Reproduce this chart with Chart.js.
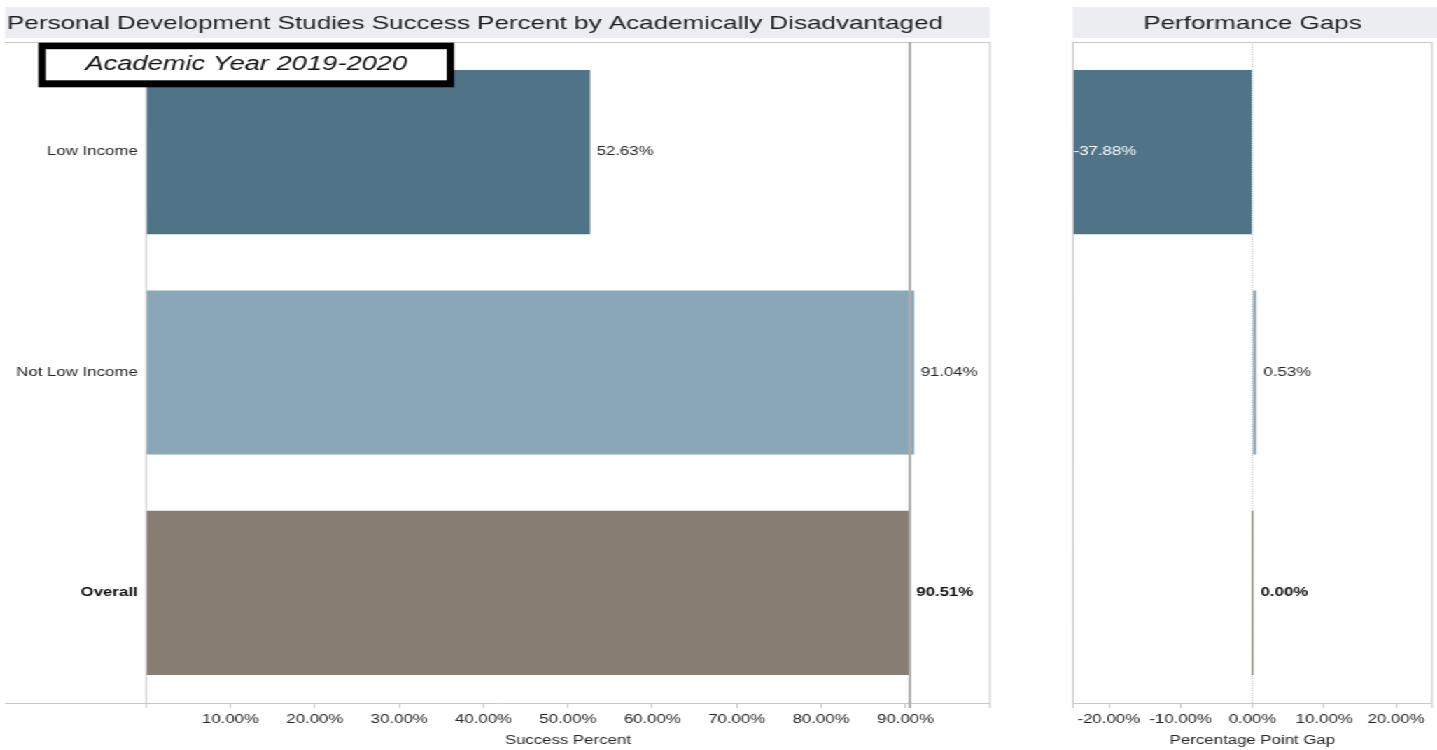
<!DOCTYPE html>
<html><head><meta charset="utf-8">
<script src="https://cdn.jsdelivr.net/npm/chart.js@4.4.1/dist/chart.umd.min.js"></script>
<style>
html,body{margin:0;padding:0;background:#fff;overflow:hidden;width:1437px;height:750px}
#stage{position:absolute;left:0;top:0;width:1026.43px;height:750px;transform:scaleX(1.4);transform-origin:0 0}
#c1{position:absolute;left:0;top:0}
#c2{position:absolute;left:730px;top:0}
</style></head><body>
<div id="stage"><canvas id="c1" width="730" height="750"></canvas><canvas id="c2" width="297" height="750"></canvas></div>
<script>
const categories = ['Low Income', 'Not Low Income', 'Overall'];
const successPercent = [52.63, 91.04, 90.51];
const performanceGap = [-37.88, 0.53, 0.00];
const successTicks = [10, 20, 30, 40, 50, 60, 70, 80, 90];
const gapTicks = [-20, -10, 0, 10, 20];
const barColors = ['#4f7487', '#8aa7b8', '#877d72'];
const mainTitle = 'Personal Development Studies Success Percent by Academically Disadvantaged';
const gapTitle = 'Performance Gaps';
const annotationText = 'Academic Year 2019-2020';
const xTitleLeft = 'Success Percent';
const xTitleRight = 'Percentage Point Gap';
const overallValue = successPercent[2];

const FONT = "'Liberation Sans', Arial, Helvetica, sans-serif";
const LINE = '#c8c8c8';
const TEXT = '#262626';
const pct = v => Number(v).toFixed(2) + '%';

function drawLabels(chart, offset) {
  const {ctx, chartArea: a} = chart;
  const meta = chart.getDatasetMeta(0);
  const vals = chart.data.datasets[0].data;
  ctx.save();
  ctx.textBaseline = 'middle';
  meta.data.forEach((bar, i) => {
    const v = vals[i];
    const bold = i === 2;
    ctx.font = (bold ? 'bold ' : '') + '12px ' + FONT;
    ctx.textAlign = 'left';
    if (v < 0 && bar.x <= a.left + 1) {
      ctx.fillStyle = '#ffffff';
      ctx.fillText(pct(v), a.left + 0.5, bar.y);
    } else {
      ctx.fillStyle = bold ? '#111' : TEXT;
      ctx.fillText(pct(v), Math.max(bar.x, bar.base) + offset, bar.y);
    }
  });
  ctx.restore();
}

function hline(ctx, x1, x2, y) { ctx.beginPath(); ctx.moveTo(x1, y); ctx.lineTo(x2, y); ctx.stroke(); }
function vline(ctx, x, y1, y2) { ctx.beginPath(); ctx.moveTo(x, y1); ctx.lineTo(x, y2); ctx.stroke(); }

const leftDecor = {
  id: 'leftDecor',
  beforeDraw(chart) {
    const {ctx, chartArea: a} = chart;
    ctx.save();
    ctx.fillStyle = '#ecedf1';
    ctx.fillRect(3.6, 7, a.right - 3.6, 31);
    ctx.fillStyle = '#1e1e1e';
    ctx.font = '18.6px ' + FONT;
    ctx.textAlign = 'center';
    ctx.textBaseline = 'middle';
    ctx.fillText(mainTitle, 339.3, 23.5);
    ctx.restore();
  },
  afterDatasetsDraw(chart) {
    const {ctx, chartArea: a, scales} = chart;
    ctx.save();
    ctx.strokeStyle = LINE; ctx.lineWidth = 1;
    hline(ctx, 3.6, a.right, a.top + 0.5);
    hline(ctx, 3.6, a.right, a.bottom + 0.5);
    vline(ctx, a.left, a.top, a.bottom + 5);
    vline(ctx, a.right, a.top, a.bottom + 5);
    const rx = scales.x.getPixelForValue(overallValue);
    ctx.strokeStyle = '#adadad'; ctx.lineWidth = 2;
    vline(ctx, rx, a.top, a.bottom + 5);
    ctx.restore();
    drawLabels(chart, 4.6);
    ctx.save();
    const bx1 = 27.4, bx2 = 324.3, by1 = 42.7, by2 = 87.3;
    ctx.fillStyle = '#000';
    ctx.fillRect(bx1, by1, bx2 - bx1, by2 - by1);
    ctx.fillStyle = '#fff';
    ctx.fillRect(bx1 + 5.2, by1 + 6.5, bx2 - bx1 - 10.4, by2 - by1 - 13.5);
    ctx.fillStyle = '#111';
    ctx.font = 'italic 19.5px ' + FONT;
    ctx.textAlign = 'center';
    ctx.textBaseline = 'middle';
    ctx.fillText(annotationText, (bx1 + bx2) / 2, 64.5);
    ctx.restore();
  }
};

const rightDecor = {
  id: 'rightDecor',
  beforeDraw(chart) {
    const {ctx, chartArea: a, width} = chart;
    ctx.save();
    ctx.fillStyle = '#ecedf1';
    ctx.fillRect(a.left, 7, width - a.left, 31);
    ctx.fillStyle = '#1e1e1e';
    ctx.font = '18.6px ' + FONT;
    ctx.textAlign = 'center';
    ctx.textBaseline = 'middle';
    ctx.fillText(gapTitle, (a.left + a.right) / 2, 23.5);
    ctx.restore();
  },
  beforeDatasetsDraw(chart) {
    const {ctx, chartArea: a, scales} = chart;
    ctx.save();
    const zx = scales.x.getPixelForValue(0);
    ctx.strokeStyle = '#b5b5b5'; ctx.lineWidth = 0.8;
    ctx.setLineDash([1.2, 1.2]);
    vline(ctx, zx, a.top, a.bottom);
    ctx.restore();
  },
  afterDatasetsDraw(chart) {
    const {ctx, chartArea: a} = chart;
    ctx.save();
    ctx.strokeStyle = LINE; ctx.lineWidth = 1;
    hline(ctx, a.left, a.right, a.top + 0.5);
    hline(ctx, a.left, a.right, a.bottom + 0.5);
    vline(ctx, a.left, a.top, a.bottom + 5);
    vline(ctx, a.right, a.top, a.bottom + 5);
    ctx.restore();
    drawLabels(chart, 5.2);
  }
};

const tickFont = {family: FONT, size: 12};

new Chart(document.getElementById('c1'), {
  type: 'bar',
  data: {labels: categories, datasets: [{data: successPercent, backgroundColor: barColors, barPercentage: 0.745, categoryPercentage: 1}]},
  options: {
    indexAxis: 'y', responsive: false, animation: false, devicePixelRatio: 1,
    layout: {padding: {left: 0, right: 22.9, top: 42, bottom: 0}},
    plugins: {legend: {display: false}, tooltip: {enabled: false}},
    scales: {
      x: {
        type: 'linear', min: 0, max: 100,
        afterBuildTicks(s) { s.ticks = successTicks.map(v => ({value: v})); },
        afterFit(s) { s.height = 47; },
        grid: {drawOnChartArea: false, drawTicks: true, tickLength: 5, color: LINE},
        border: {display: false},
        ticks: {font: tickFont, color: TEXT, padding: 4, maxRotation: 0, autoSkip: false, callback: v => pct(v)},
        title: {display: true, text: xTitleLeft, font: tickFont, color: TEXT, padding: {top: 0, bottom: 2}}
      },
      y: {
        afterFit(s) { s.width = 104.3; },
        grid: {display: false, drawTicks: false},
        border: {display: false},
        ticks: {
          padding: 6,
          color: c => c.index === 2 ? '#111' : TEXT,
          font: c => ({family: FONT, size: 12, weight: c.index === 2 ? 'bold' : 'normal'})
        }
      }
    }
  },
  plugins: [leftDecor]
});

new Chart(document.getElementById('c2'), {
  type: 'bar',
  data: {labels: categories, datasets: [{data: performanceGap, backgroundColor: barColors, barPercentage: 0.745, categoryPercentage: 1, minBarLength: 1.2}]},
  options: {
    indexAxis: 'y', responsive: false, animation: false, devicePixelRatio: 1,
    layout: {padding: {left: 36.4, right: 4.1, top: 42, bottom: 0}},
    plugins: {legend: {display: false}, tooltip: {enabled: false}},
    scales: {
      x: {
        type: 'linear', min: -25, max: 25,
        afterBuildTicks(s) { s.ticks = gapTicks.map(v => ({value: v})); },
        afterFit(s) { s.height = 47; },
        grid: {drawOnChartArea: false, drawTicks: true, tickLength: 5, color: LINE},
        border: {display: false},
        ticks: {font: tickFont, color: TEXT, padding: 4, maxRotation: 0, autoSkip: false, callback: v => pct(v)},
        title: {display: true, text: xTitleRight, font: tickFont, color: TEXT, padding: {top: 0, bottom: 2}}
      },
      y: {display: false}
    }
  },
  plugins: [rightDecor]
});
</script>
</body></html>
